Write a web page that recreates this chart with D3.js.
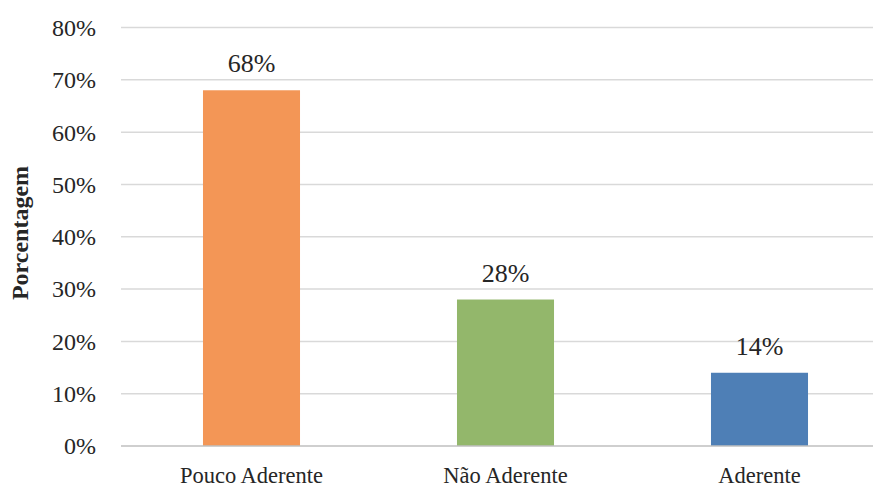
<!DOCTYPE html>
<html><head><meta charset="utf-8">
<script src="https://cdn.jsdelivr.net/npm/d3@7"></script>
<style>body{margin:0;background:#fff}svg{display:block}svg text{font-family:"Times New Roman",Times,"Liberation Serif",serif !important;fill:#262626}</style>
</head><body><div id="chart"></div>
<script>
const categories = ["Pouco Aderente", "Não Aderente", "Aderente"];
const values = [68, 28, 14];
const colors = ["#F39656", "#93B76B", "#4E7FB6"];
const yTicks = [0, 10, 20, 30, 40, 50, 60, 70, 80];
const yTitle = "Porcentagem";

const W = 873, H = 487;
const svg = d3.select("#chart").append("svg").attr("width", W).attr("height", H);
const y = d3.scaleLinear().domain([0, 80]).range([446, 27.5]);
const x = d3.scaleBand().domain(categories).range([124.5, 886.5]).paddingInner(0.618).paddingOuter(0.309);

svg.append("g").selectAll("line").data(yTicks.filter(d => d > 0)).join("line")
  .attr("x1", 121).attr("x2", W).attr("y1", d => y(d)).attr("y2", d => y(d))
  .attr("stroke", "#d9d9d9").attr("stroke-width", 1.5);

svg.append("g").selectAll("rect").data(values).join("rect")
  .attr("x", (d, i) => x(categories[i])).attr("width", x.bandwidth())
  .attr("y", d => y(d)).attr("height", d => y(0) - y(d))
  .attr("fill", (d, i) => colors[i]);

svg.append("line").attr("x1", 121).attr("x2", W).attr("y1", y(0)).attr("y2", y(0))
  .attr("stroke", "#bfbfbf").attr("stroke-width", 1.5);

const yAxis = d3.axisLeft(y).tickValues(yTicks).tickFormat(d => d + "%").tickSize(0).tickPadding(0);
const gy = svg.append("g").attr("transform", "translate(96,0)").call(yAxis);
gy.attr("font-family", null);
gy.select(".domain").remove();
gy.selectAll("text").style("font-size", "24px").attr("fill", "#262626").attr("dy", "0.33em");

const xAxis = d3.axisBottom(x).tickSize(0).tickPadding(0);
const gx = svg.append("g").attr("transform", "translate(0,483)").call(xAxis);
gx.attr("font-family", null);
gx.select(".domain").remove();
gx.selectAll("text").style("font-size", "22.5px").attr("fill", "#262626").attr("dy", "0");

svg.append("g").selectAll("text").data(values).join("text")
  .attr("x", (d, i) => x(categories[i]) + x.bandwidth() / 2)
  .attr("y", d => y(d) - 18)
  .attr("text-anchor", "middle").style("font-size", "26px")
  .text(d => d + "%");

svg.append("text").attr("transform", "translate(28,233) rotate(-90)")
  .attr("text-anchor", "middle").style("font-size", "24px").style("font-weight", "bold")
  .text(yTitle);
</script></body></html>
